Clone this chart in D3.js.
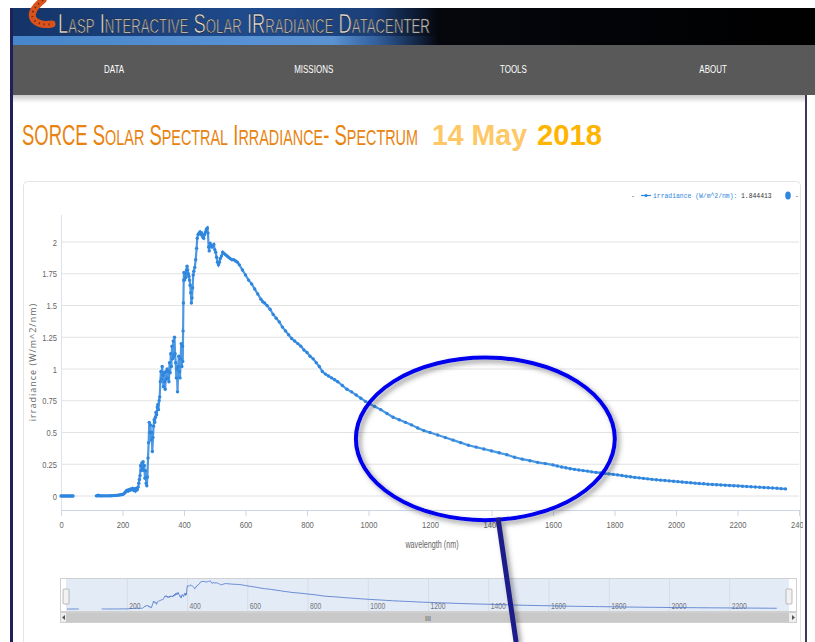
<!DOCTYPE html>
<html>
<head>
<meta charset="utf-8">
<script src="https://cdn.jsdelivr.net/npm/d3@7"></script>
<style>
body{margin:0;background:#fff;}
svg{display:block;font-family:"Liberation Sans",Arial,sans-serif;}
</style>
</head>
<body>
<svg id="page"></svg>
<script>

// spectrum (nm, W/m^2/nm), null = gap in the data
var wavelength = [
  0,4,8,12,16,20,24,28,32,36,39, 77,
  115,118,121,124,128,132,136,140,145,150,155,160,165,170,175,180,185,190,195,200,
  203,206,209,212,215,218,221,224,227,230,233,236,239,242,245,248,251,
  253,255,257,259,261,263,265,267,269,271,273,275,277,279,281,283,285,287,289,291,293,295,297,299,301,303,305,
  307,309,311,313,315,317,319,321,323,325,327,329,331,333,335,337,339,341,343,345,347,349,351,353,355,357,359,
  361,363,365,367,369,371,373,375,377,379,381,383,385,387,389,391,393,395,396,397,398,399,400,
  402,404,406,408,410,412,414,416,418,420,422,424,426,428,430,432,435,438,441,443,446,449,452,455,458,461,464,
  467,470,473,476,478,480,482,485,488,491,494,497,500,503,506,509,512,515,518,522,526,530,535,540,545,550,556,
  562,568,574,580,590,600,610,620,630,640,650,656,662,670,680,690,700,710,720,730,740,750,760,770,780,790,800,
  810,820,830,840,850,860,870,880,890,900,915,930,945,960,975,990,1005,1020,1040,1060,1080,1100,1120,1140,1160,
  1180,1200,1225,1250,1275,1300,1325,1350,1375,1400,1425,1450,1475,1500,1525,1550,1575,1600,
  1614,1628,1642,1656,1670,1684,1698,1712,1726,1740,1754,1768,1782,1796,1810,1824,1838,1852,1866,1880,1894,
  1908,1922,1936,1950,1964,1978,1992,2006,2020,2034,2048,2062,2076,2090,2104,2118,2132,2146,2160,2174,2188,
  2202,2216,2230,2244,2258,2272,2286,2300,2314,2328,2342,2356
]
var irradiance = [
  0,0,0,0,0,0,0,0,0,0,0, null,
  0.001,0.002,0.006,0.002,0.001,0.001,0.001,0.001,0.001,0.001,0.001,0.002,0.002,0.003,0.004,0.005,0.006,0.008,0.01,0.012,
  0.015,0.022,0.03,0.04,0.045,0.038,0.05,0.045,0.055,0.05,0.06,0.045,0.055,0.04,0.06,0.05,0.07,
  0.1,0.13,0.16,0.24,0.2,0.26,0.22,0.27,0.2,0.24,0.14,0.2,0.1,0.08,0.15,0.3,0.42,0.58,0.5,0.56,0.44,0.5,0.35,0.46,0.55,0.6,0.58,
  0.62,0.66,0.64,0.7,0.72,0.68,0.75,0.78,0.9,0.98,0.92,1.02,0.95,0.86,0.97,0.9,0.84,0.98,0.92,1.0,0.93,0.98,0.9,1.05,0.97,1.12,1.02,
  1.18,1.08,1.22,1.1,1.25,1.12,1.05,0.93,1.0,0.82,1.02,1.1,0.98,0.93,1.08,1.2,1.02,1.18,1.06,1.3,1.52,1.7,1.76,
  1.7,1.75,1.72,1.78,1.81,1.78,1.75,1.73,1.7,1.66,1.6,1.52,1.56,1.64,1.74,1.77,1.8,1.86,1.95,2.03,2.06,2.07,2.08,2.06,2.07,2.04,2.03,
  2.06,2.08,2.1,2.11,2.07,1.96,1.93,1.99,1.97,1.96,1.97,1.98,1.94,1.92,1.88,1.84,1.82,1.84,1.87,1.89,1.92,1.91,1.9,1.89,1.88,1.87,1.86,
  1.86,1.85,1.84,1.82,1.78,1.74,1.7,1.67,1.63,1.59,1.55,1.53,1.52,1.5,1.47,1.43,1.4,1.37,1.33,1.3,1.27,1.24,1.22,1.2,1.18,1.15,1.13,
  1.1,1.08,1.05,1.02,0.98,0.96,0.945,0.93,0.915,0.9,0.87,0.84,0.82,0.795,0.77,0.745,0.725,0.705,0.68,0.65,0.62,0.6,0.58,0.56,0.535,
  0.515,0.5,0.48,0.46,0.44,0.42,0.4,0.385,0.37,0.355,0.34,0.325,0.305,0.29,0.278,0.265,0.255,0.245,
  0.236,0.228,0.222,0.215,0.21,0.205,0.2,0.196,0.19,0.186,0.182,0.178,0.174,0.17,0.166,0.161,0.156,0.151,0.147,0.143,0.139,
  0.135,0.131,0.128,0.125,0.122,0.119,0.116,0.113,0.11,0.107,0.104,0.101,0.098,0.096,0.093,0.091,0.089,0.087,0.085,0.083,0.081,
  0.079,0.077,0.075,0.073,0.071,0.069,0.067,0.065,0.063,0.061,0.058,0.056
]

var xTicks = [0,200,400,600,800,1000,1200,1400,1600,1800,2000,2200,2400]
var yTicks = [0,0.25,0.5,0.75,1,1.25,1.5,1.75,2]
var navTicks = [200,400,600,800,1000,1200,1400,1600,1800,2000,2200]
var menuItems = ["DATA","MISSIONS","TOOLS","ABOUT"]
var legendName = "irradiance (W/m^2/nm)"
var legendValue = "1.844413"

// the hand drawn circle and pointer on the screenshot, in data units
var callout = {nm:1380, val:0.45, rxNm:421, ryVal:0.64}
var pointer = {fromNm:1421, fromVal:-0.17, toNm:1480, toVal:-1.15}

var screen = {width:815,height:642}
var plot = {left:61,right:799,top:215,bottom:510}
var blue = "#2e86de"
var narrow = 0.8   // no condensed font installed, squeeze glyphs instead

var svg = d3.select("#page")
  .attr("width",screen.width)
  .attr("height",screen.height)

var spectrum = wavelength.map(function(w,i){ return {nm:w, val:irradiance[i]} })

var xScale = d3.scaleLinear().domain([0,2400]).range([plot.left,plot.right])
var yScale = d3.scaleLinear().domain([0,2]).range([496,242])

// fake small caps: capitals at full size, the rest upper-cased and smaller
var smallCaps = function(textSel, str, size, ratio)
{
  var runs = []
  for (var i = 0; i < str.length; i++)
  {
    var c = str[i]
    var big = (c != c.toLowerCase()) || c == " " || c == "-"
    var last = runs[runs.length-1]
    if (last && last.big == big) { last.s += c }
    else { runs.push({big:big, s:c}) }
  }
  runs.forEach(function(r){
    textSel.append("tspan")
      .style("font-size",(r.big ? size : size*ratio)+"px")
      .text(r.s.toUpperCase())
  })
}

// place a text at x,y and stretch it sideways to the wanted width
var squeeze = function(textSel, x, y, width)
{
  textSel.attr("x",0).attr("y",0)
  var w = textSel.node().getComputedTextLength()
  textSel.attr("transform","translate("+x+","+y+") scale("+(width/w)+",1)")
}

var drawHeader = function()
{
  var defs = svg.append("defs")

  var bg = defs.append("linearGradient").attr("id","bannerBg")
  bg.append("stop").attr("offset","0%").attr("stop-color","#143468")
  bg.append("stop").attr("offset","30%").attr("stop-color","#1f4b8e")
  bg.append("stop").attr("offset","45%").attr("stop-color","#1b3f78")
  bg.append("stop").attr("offset","53%").attr("stop-color","#05070d")
  bg.append("stop").attr("offset","100%").attr("stop-color","#000")

  var strip = defs.append("linearGradient").attr("id","bannerStrip")
  strip.append("stop").attr("offset","0%").attr("stop-color","#4d8fd6").attr("stop-opacity",0.9)
  strip.append("stop").attr("offset","40%").attr("stop-color","#6aa6e6").attr("stop-opacity",0.8)
  strip.append("stop").attr("offset","53%").attr("stop-color","#2a5aa0").attr("stop-opacity",0)

  var shade = defs.append("linearGradient").attr("id","navShade")
    .attr("x1",0).attr("x2",0).attr("y1",0).attr("y2",1)
  shade.append("stop").attr("offset","0%").attr("stop-color","#c8c8c8")
  shade.append("stop").attr("offset","100%").attr("stop-color","#fff")

  var drop = defs.append("filter").attr("id","inkShadow")
    .attr("x","-20%").attr("y","-20%").attr("width","140%").attr("height","140%")
  drop.append("feDropShadow").attr("dx",3).attr("dy",3)
    .attr("stdDeviation",2.5).attr("flood-color","#444").attr("flood-opacity",0.55)

  defs.append("clipPath").attr("id","panelClip")
    .append("rect").attr("x",23).attr("y",170).attr("width",780).attr("height",480)

  svg.append("rect").attr("x",13).attr("y",8).attr("width",802).attr("height",37)
    .attr("fill","url(#bannerBg)")
  svg.append("rect").attr("x",13).attr("y",36).attr("width",802).attr("height",9)
    .attr("fill","url(#bannerStrip)")

  // logo tube
  svg.append("path").attr("d","M43,0 Q28,12 34,20 Q40,26 52,24")
    .attr("fill","none").attr("stroke","#d8531c").attr("stroke-width",7).attr("stroke-linecap","round")
  svg.append("path").attr("d","M43,0 Q28,12 34,20 Q40,26 52,24")
    .attr("fill","none").attr("stroke","#6b1c08").attr("stroke-width",2).attr("stroke-dasharray","1 4")

  var banner = svg.append("text")
    .attr("fill","#e4e4e4").attr("stroke","#222").attr("stroke-width",0.7)
  smallCaps(banner,"Lasp Interactive Solar IRradiance Datacenter",27,0.72)
  squeeze(banner,58,32.5,372)

  svg.append("rect").attr("x",13).attr("y",45).attr("width",802).attr("height",50).attr("fill","#595959")
  svg.append("rect").attr("x",13).attr("y",95).attr("width",793).attr("height",8).attr("fill","url(#navShade)")

  svg.selectAll(".menu").data(menuItems).enter().append("text")
    .attr("class","menu")
    .attr("text-anchor","middle")
    .style("font-size","10px")
    .attr("fill","#fff")
    .text(function(d){ return d })
    .attr("transform",function(d,i){ return "translate("+(114 + i*199.7)+",73) scale("+narrow+",1)" })

  // page frame lines
  svg.append("rect").attr("x",10).attr("y",8).attr("width",3).attr("height",634).attr("fill","#20205a")
  svg.append("rect").attr("x",805).attr("y",95).attr("width",2).attr("height",547).attr("fill","#3a3a5a")

  var title = svg.append("text").attr("fill","#e8830f")
  smallCaps(title,"SORCE Solar Spectral Irradiance- Spectrum",29,0.78)
  squeeze(title,22,145,396)

  var day = svg.append("text")
    .style("font-size","29px").style("font-weight","bold")
    .attr("fill","#fdc865").text("14 May")
  squeeze(day,432,145,95)
  var year = svg.append("text")
    .style("font-size","29px").style("font-weight","bold")
    .attr("fill","#ffb500").text("2018")
  squeeze(year,537,145,65)

  svg.append("rect").attr("x",23.5).attr("y",181.5).attr("width",777).attr("height",480)
    .attr("rx",4).attr("fill","#fff").attr("stroke","#e4e4e4")
}

var drawChart = function()
{
  var g = svg.append("g").attr("id","graph")

  g.selectAll(".grid").data(yTicks).enter().append("line")
    .attr("class","grid")
    .attr("x1",plot.left).attr("x2",plot.right)
    .attr("y1",function(d){ return yScale(d) }).attr("y2",function(d){ return yScale(d) })
    .attr("stroke","#e2e2e2")

  var yAxis = d3.axisLeft(yScale).tickValues(yTicks).tickSize(0).tickPadding(5)
    .tickFormat(function(d){ return d3.format("")(d) })
  g.append("g").attr("transform","translate("+plot.left+",0)").call(yAxis)
    .call(function(a){ a.select(".domain").remove() })
    .selectAll("text").attr("fill","#666").style("font-size","9.5px")
    .attr("transform","scale("+narrow+",1)")

  g.append("line").attr("x1",plot.left+0.5).attr("x2",plot.left+0.5)
    .attr("y1",plot.top).attr("y2",plot.bottom).attr("stroke","#dde3ee")

  var xAxis = d3.axisBottom(xScale).tickValues(xTicks).tickSize(6).tickPadding(5)
    .tickFormat(d3.format("d"))
  var xg = g.append("g").attr("clip-path","url(#panelClip)")
    .append("g").attr("transform","translate(0,"+plot.bottom+")").call(xAxis)
  xg.select(".domain").attr("stroke","#ccd6eb")
  xg.selectAll(".tick line").attr("stroke","#ccd6eb")
  xg.selectAll("text").attr("fill","#666").style("font-size","9.5px")
    .attr("transform","scale("+narrow+",1)")

  g.append("text").attr("text-anchor","middle")
    .attr("fill","#666").style("font-size","10px").text("wavelength (nm)")
    .attr("transform","translate(432,548) scale(0.72,1)")

  g.append("text")
    .attr("transform","translate(36,362) rotate(-90)")
    .attr("text-anchor","middle")
    .style("font-family","'Open Sans',sans-serif")
    .style("font-size","9px").style("letter-spacing","1px")
    .attr("fill","#666")
    .text("irradiance (W/m^2/nm)")

  var line = d3.line()
    .defined(function(d){ return d.val != null })
    .x(function(d){ return xScale(d.nm) })
    .y(function(d){ return yScale(d.val) })

  g.append("path").datum(spectrum)
    .attr("d",line).attr("fill","none")
    .attr("stroke",blue).attr("stroke-width",2.2).attr("stroke-opacity",0.85)

  g.selectAll(".pt").data(spectrum.filter(function(d){ return d.val != null }))
    .enter().append("circle")
    .attr("class","pt")
    .attr("cx",function(d){ return xScale(d.nm) })
    .attr("cy",function(d){ return yScale(d.val) })
    .attr("r",1.7)
    .attr("fill",blue)

  // legend
  var lg = svg.append("g").attr("id","legend")
    .style("font-family","'Liberation Mono',monospace").style("font-size","6.4px")
  lg.append("text").attr("x",631).attr("y",198).attr("fill","#555").text("-")
  lg.append("line").attr("x1",641).attr("x2",651).attr("y1",195.5).attr("y2",195.5)
    .attr("stroke",blue).attr("stroke-width",1.2)
  lg.append("circle").attr("cx",646).attr("cy",195.5).attr("r",1.6).attr("fill",blue)
  lg.append("text").attr("x",653).attr("y",198).attr("fill",blue).text(legendName + ":")
  lg.append("text").attr("x",741).attr("y",198).attr("fill","#333").text(legendValue)
  lg.append("ellipse").attr("cx",788).attr("cy",195.5).attr("rx",2.8).attr("ry",4).attr("fill",blue)
  lg.append("text").attr("x",795).attr("y",198).attr("fill","#555").text("-")
}

var drawNavigator = function()
{
  var navX = d3.scaleLinear().domain([0,2400]).range([67,790])
  var navY = d3.scaleLinear().domain([0,2.11]).range([609,581])
  var nav = svg.append("g").attr("id","navigator")

  nav.append("rect").attr("x",60.5).attr("y",578.5).attr("width",736).attr("height",33)
    .attr("fill","#fff").attr("stroke","#d0d0d0")
  nav.append("rect").attr("x",66).attr("y",579).attr("width",723).attr("height",32)
    .attr("fill","#e3ebf7")

  nav.selectAll(".ng").data(navTicks).enter().append("line")
    .attr("x1",function(d){ return navX(d) }).attr("x2",function(d){ return navX(d) })
    .attr("y1",579).attr("y2",611).attr("stroke","#d6dde8")

  nav.selectAll(".nl").data(navTicks).enter().append("text")
    .attr("transform",function(d){ return "translate("+(navX(d)+2)+",609) scale("+narrow+",1)" })
    .attr("fill","#777").style("font-size","8.5px")
    .text(function(d){ return d })

  var navLine = d3.line()
    .defined(function(d){ return d.val != null })
    .x(function(d){ return navX(d.nm) })
    .y(function(d){ return navY(d.val) })
  nav.append("path").datum(spectrum).attr("d",navLine)
    .attr("fill","none").attr("stroke","#4a74c9").attr("stroke-width",0.8)

  // range handles
  ;[66,789].forEach(function(h){
    nav.append("rect").attr("x",h-3).attr("y",589).attr("width",6).attr("height",15)
      .attr("rx",1).attr("fill","#f2f2f2").attr("stroke","#aaa").attr("stroke-width",0.8)
  })

  // scrollbar
  nav.append("rect").attr("x",60.5).attr("y",612.5).attr("width",736).attr("height",10)
    .attr("fill","#eee").attr("stroke","#d0d0d0")
  nav.append("rect").attr("x",66).attr("y",613).attr("width",723).attr("height",9).attr("fill","#c9c9c9")
  nav.append("text").attr("x",428).attr("y",621).attr("text-anchor","middle")
    .attr("fill","#555").style("font-size","7px").text("III")
  nav.append("path").attr("d","M65,615 L62,617.5 L65,620Z").attr("fill","#555")
  nav.append("path").attr("d","M792,615 L795,617.5 L792,620Z").attr("fill","#555")
}

var drawCallout = function()
{
  var ink = svg.append("g").attr("id","callout").attr("filter","url(#inkShadow)")
  ink.append("ellipse")
    .attr("cx",xScale(callout.nm)).attr("cy",yScale(callout.val))
    .attr("rx",xScale(callout.rxNm)-xScale(0))
    .attr("ry",yScale(0)-yScale(callout.ryVal))
    .attr("fill","none").attr("stroke","#0000ee").attr("stroke-width",4)
  ink.append("line")
    .attr("x1",xScale(pointer.fromNm)).attr("y1",yScale(pointer.fromVal))
    .attr("x2",xScale(pointer.toNm)).attr("y2",yScale(pointer.toVal))
    .attr("stroke","#1d1d8a").attr("stroke-width",5)
}

drawHeader()
drawChart()
drawNavigator()
drawCallout()

</script>
</body>
</html>
